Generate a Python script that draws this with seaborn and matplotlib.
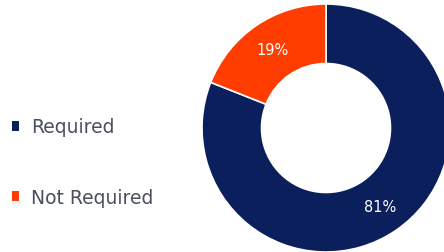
import matplotlib
matplotlib.use('Agg')
import matplotlib.pyplot as plt
import seaborn as sns
from matplotlib.patches import Patch

# data
labels = ['Required', 'Not Required']
shares = [81, 19]
colors = ['#0b1f5c', '#ff3d00']

sns.set_theme(style='white')
plt.rcParams['font.family'] = ['DejaVu Sans']
pal = sns.color_palette(colors)

fig = plt.figure(figsize=(4.44, 2.53), dpi=100)
ax = fig.add_axes([202/444, 0.0, 248/444, 248/253])
wedges, _, autotexts = ax.pie(
    shares, colors=pal, startangle=90, counterclock=False,
    autopct=lambda p: f'{p:.0f}%', pctdistance=0.77,
    wedgeprops=dict(width=0.48, edgecolor='white', linewidth=1.2),
    textprops=dict(color='white', fontsize=10.5))
ax.set_xlim(-1, 1); ax.set_ylim(-1, 1); ax.set_aspect('equal')
ax.axis('off')

handles = [Patch(facecolor=c, edgecolor='none') for c in pal]
fig.legend(handles, labels, loc='center left', bbox_to_anchor=(-0.012, 0.355),
           frameon=False, fontsize=13.5, labelcolor='#4a4f5e',
           handlelength=0.42, handleheight=0.42, handletextpad=0.6,
           labelspacing=2.75)

fig.savefig('out.png', dpi=100)
